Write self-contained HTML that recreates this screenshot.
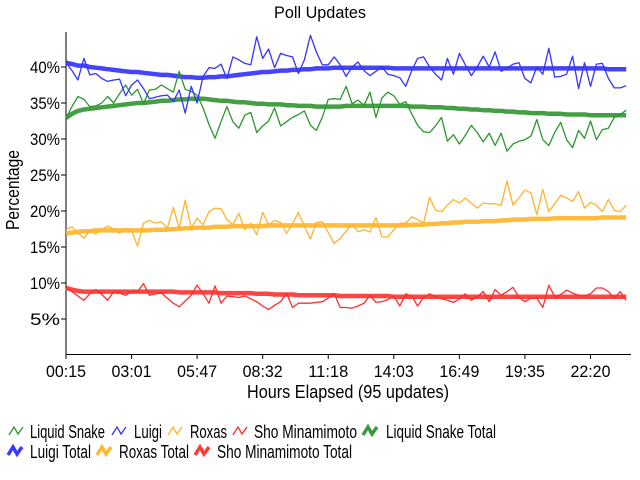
<!DOCTYPE html>
<html><head><meta charset="utf-8"><style>
html,body{margin:0;padding:0;background:#fff;}
svg{display:block;font-family:"Liberation Sans",sans-serif;}
</style></head><body>
<svg id="chart" width="640" height="480" viewBox="0 0 640 480" xmlns="http://www.w3.org/2000/svg">
<rect x="0" y="0" width="640" height="480" fill="#fff"/>
<text x="320" y="18" text-anchor="middle" font-size="17" textLength="92" lengthAdjust="spacingAndGlyphs">Poll Updates</text>
<text transform="translate(19,190) rotate(-90)" text-anchor="middle" font-size="18" textLength="80" lengthAdjust="spacingAndGlyphs">Percentage</text>
<text x="348" y="398" text-anchor="middle" font-size="18" textLength="202" lengthAdjust="spacingAndGlyphs">Hours Elapsed (95 updates)</text>
<g id="axes"></g>
<g id="series"></g>
<g id="legend"></g>
</svg>
<script>
const yTicks = [5,10,15,20,25,30,35,40];
const xTickLabels = ["00:15","03:01","05:47","08:32","11:18","14:03","16:49","19:35","22:20"];
const xTickIndex = [0,11,22,33,44,55,66,77,88];
const luigi = [40.6,39.5,38.2,41.2,38.9,39.1,38.4,38.0,38.2,38.3,36.0,37.5,38.2,37.0,35.6,35.8,36.0,36.1,35.2,36.8,33.6,37.3,35.0,38.7,39.9,39.8,40.4,38.4,41.4,41.0,40.5,40.3,44.2,41.2,42.5,39.9,41.9,41.6,41.4,39.1,41.0,44.4,42.1,40.3,40.3,41.4,40.3,38.7,40.0,40.7,39.5,38.8,39.4,40.0,39.0,38.8,38.5,37.3,39.5,41.2,41.4,40.0,39.0,38.2,41.2,39.0,41.9,40.3,38.8,40.0,41.5,40.0,42.1,39.4,39.8,40.4,40.6,38.4,37.8,40.0,39.0,42.6,38.6,38.7,39.0,41.5,37.0,40.6,37.3,40.4,40.5,38.4,37.1,37.1,37.4];
const snake = [32.9,34.5,35.9,35.5,34.5,34.6,35.0,35.9,35.0,36.3,37.5,36.1,36.9,34.9,36.8,36.9,37.5,37.0,36.5,39.4,36.9,36.6,36.1,34.3,32.0,30.1,32.4,34.5,32.4,31.5,33.3,33.7,30.9,31.8,32.5,34.3,31.8,32.4,33.0,33.4,33.9,31.9,31.2,33.0,35.5,35.6,35.5,37.3,34.9,35.4,34.7,36.5,33.0,35.7,36.5,36.0,34.8,35.2,33.5,31.9,31.0,30.9,31.8,33.0,29.7,30.6,29.3,30.5,31.9,30.9,29.6,30.8,29.1,30.8,28.3,29.3,29.7,29.9,30.4,32.7,29.9,29.1,30.9,32.3,29.9,28.8,31.2,30.1,32.5,29.9,31.3,31.5,33.0,33.4,34.0];
const roxas = [17.4,17.8,17.0,16.2,17.3,16.8,17.4,17.9,17.5,16.9,17.6,17.3,15.1,18.3,18.7,18.3,18.5,17.6,20.5,17.6,21.5,17.6,19.0,18.1,19.9,20.4,20.3,18.8,18.1,19.7,17.4,18.3,16.7,19.8,18.1,18.7,18.4,16.9,18.2,19.8,17.9,16.1,18.4,18.5,17.0,15.5,16.2,17.2,18.2,17.1,17.4,17.1,19.1,16.4,16.4,17.4,18.3,18.3,19.2,18.8,18.3,21.9,20.1,19.9,20.8,21.6,21.1,21.8,21.1,20.4,21.1,21.0,21.0,20.8,24.2,20.8,21.8,22.9,22.5,19.5,23.0,19.9,21.0,22.2,21.8,21.3,22.7,20.4,21.2,20.8,19.9,21.6,20.1,19.9,20.8];
const sho = [9.3,8.8,8.2,7.6,8.5,9.1,8.4,7.6,8.8,8.6,8.3,8.8,8.8,9.9,8.3,8.5,8.6,7.9,7.2,6.7,7.5,8.3,9.7,8.5,7.2,9.6,7.2,8.2,8.1,8.0,8.2,7.8,7.4,6.8,6.3,6.9,7.4,8.6,6.6,7.2,7.2,7.2,7.3,7.4,7.9,8.5,6.6,6.6,6.5,6.8,7.2,8.3,7.3,7.4,7.7,8.2,6.8,8.5,8.2,6.8,8.0,8.5,8.1,7.8,7.6,7.3,7.8,8.5,7.6,8.1,8.8,7.4,9.1,8.3,8.8,9.4,8.0,7.4,7.9,7.9,6.6,9.7,8.1,8.4,9.0,8.6,8.3,8.2,8.5,9.3,9.3,8.8,7.9,8.8,7.6];
const luigiTotal = [40.6,40.4,40.2,40.2,40.0,39.9,39.8,39.7,39.6,39.5,39.4,39.3,39.3,39.2,39.1,39.0,38.9,38.9,38.8,38.7,38.6,38.6,38.5,38.5,38.6,38.6,38.7,38.7,38.8,38.9,39.0,39.1,39.2,39.3,39.3,39.4,39.5,39.5,39.6,39.6,39.7,39.7,39.8,39.8,39.8,39.9,39.9,39.9,39.9,39.9,39.9,39.9,39.9,39.9,39.9,39.8,39.8,39.8,39.8,39.8,39.8,39.8,39.8,39.8,39.8,39.8,39.8,39.8,39.8,39.8,39.8,39.8,39.8,39.8,39.8,39.8,39.8,39.8,39.8,39.8,39.8,39.8,39.8,39.8,39.8,39.8,39.8,39.8,39.8,39.8,39.8,39.7,39.7,39.7,39.7];
const snakeTotal = [32.9,33.5,33.9,34.1,34.2,34.3,34.4,34.5,34.6,34.7,34.8,34.9,35.0,35.0,35.1,35.2,35.3,35.3,35.4,35.5,35.5,35.6,35.6,35.6,35.5,35.4,35.3,35.3,35.2,35.1,35.1,35.0,34.9,34.9,34.8,34.8,34.8,34.7,34.7,34.6,34.6,34.6,34.5,34.5,34.5,34.5,34.5,34.6,34.6,34.6,34.6,34.6,34.6,34.6,34.6,34.6,34.6,34.6,34.5,34.5,34.5,34.4,34.4,34.4,34.3,34.3,34.2,34.2,34.1,34.1,34.0,34.0,33.9,33.9,33.8,33.8,33.7,33.7,33.6,33.6,33.6,33.5,33.5,33.5,33.4,33.4,33.4,33.4,33.3,33.3,33.3,33.3,33.3,33.3,33.3];
const roxasTotal = [16.9,17.0,17.1,17.2,17.2,17.3,17.3,17.3,17.3,17.3,17.3,17.3,17.3,17.3,17.3,17.4,17.4,17.4,17.5,17.5,17.6,17.6,17.7,17.7,17.7,17.8,17.8,17.8,17.9,17.9,17.9,17.9,17.9,17.9,18.0,18.0,18.0,18.0,18.0,18.0,18.0,18.0,18.0,18.0,18.0,18.0,18.0,18.0,18.0,18.0,18.0,18.0,18.0,18.0,18.0,18.0,18.0,18.0,18.1,18.1,18.1,18.2,18.2,18.3,18.3,18.4,18.4,18.5,18.5,18.5,18.6,18.6,18.6,18.7,18.7,18.8,18.8,18.8,18.9,18.9,18.9,18.9,19.0,19.0,19.0,19.0,19.0,19.0,19.0,19.0,19.1,19.1,19.1,19.1,19.1];
const shoTotal = [9.3,9.1,8.9,8.8,8.8,8.8,8.8,8.8,8.8,8.8,8.8,8.8,8.8,8.8,8.8,8.8,8.8,8.8,8.8,8.7,8.7,8.7,8.7,8.7,8.7,8.7,8.6,8.6,8.6,8.6,8.6,8.6,8.5,8.5,8.5,8.4,8.4,8.4,8.4,8.3,8.3,8.3,8.3,8.3,8.3,8.3,8.2,8.2,8.2,8.2,8.2,8.2,8.2,8.2,8.2,8.1,8.1,8.1,8.1,8.1,8.1,8.1,8.1,8.1,8.1,8.1,8.1,8.1,8.1,8.1,8.1,8.1,8.1,8.1,8.1,8.1,8.1,8.1,8.1,8.1,8.1,8.1,8.1,8.1,8.1,8.1,8.1,8.1,8.1,8.1,8.1,8.1,8.1,8.1,8.1];

const NS="http://www.w3.org/2000/svg";
const X0=66, XSTEP=5.96, Y0=355, YPX=7.2;
function xs(i){return X0+i*XSTEP;}
function ys(v){return Y0-v*YPX;}
function mk(tag,parent,attrs){const e=document.createElementNS(NS,tag);for(const k in attrs)e.setAttribute(k,attrs[k]);parent.appendChild(e);return e;}

const axes=document.getElementById('axes');
let e;
e=mk('line',axes,{x1:66,y1:32,x2:66,y2:355,stroke:'#000','stroke-width':1});


e=mk('line',axes,{x1:66,y1:354.5,x2:631,y2:354.5,stroke:'#000','stroke-width':1});


yTicks.forEach(v=>{
  const t=mk('line',axes,{x1:61,y1:ys(v),x2:66,y2:ys(v),stroke:'#000'});
  
  
  const l=mk('text',axes,{x:60,y:ys(v)+6,'text-anchor':'end','font-size':17,textLength:30,lengthAdjust:'spacingAndGlyphs'});
  l.textContent=v+'%';
  
  
});
xTickLabels.forEach((s,k)=>{
  const x=xs(xTickIndex[k]);
  const t=mk('line',axes,{x1:x,y1:355,x2:x,y2:359,stroke:'#000'});
  
  
  const l=mk('text',axes,{x:x,y:377,'text-anchor':'middle','font-size':17,textLength:40,lengthAdjust:'spacingAndGlyphs'});
  l.textContent=s;
  
  
});

const ser=document.getElementById('series');
function drawLine(arr,color,w,name,op){
  const pts=arr.map((v,i)=>xs(i).toFixed(1)+','+ys(v).toFixed(1)).join(' ');
  const p=mk('polyline',ser,{points:pts,fill:'none',stroke:color,'stroke-width':w,'stroke-linejoin':'round',opacity:op});
  
  
}
drawLine(snakeTotal,'#3a9a3a',4.5,'liquid-snake-total-line',0.95);
drawLine(roxasTotal,'#ffb733',4.5,'roxas-total-line',0.95);
drawLine(shoTotal,'#ff3a3a',4.5,'sho-minamimoto-total-line',0.95);
drawLine(luigiTotal,'#3a3aff',4.5,'luigi-total-line',0.95);
drawLine(snake,'#2e962e',1.3,'liquid-snake-line',1);
drawLine(luigi,'#3434ff',1.3,'luigi-line',1);
drawLine(roxas,'#ffb32e',1.3,'roxas-line',1);
drawLine(sho,'#ff2e2e',1.3,'sho-minamimoto-line',1);

const leg=document.getElementById('legend');
const items=[
 ['Liquid Snake','#2e962e',1.3,9,438,30,75,'legend-liquid-snake'],
 ['Luigi','#3434ff',1.3,112,438,134,28,'legend-luigi'],
 ['Roxas','#ffb32e',1.3,168,438,190,37,'legend-roxas'],
 ['Sho Minamimoto','#ff2e2e',1.3,233,438,254,103,'legend-sho-minamimoto'],
 ['Liquid Snake Total','#3a9a3a',3.5,363,438,386,110,'legend-liquid-snake-total'],
 ['Luigi Total','#3a3aff',3.5,8,458,30,61,'legend-luigi-total'],
 ['Roxas Total','#ffb733',3.5,97,458,119,70,'legend-roxas-total'],
 ['Sho Minamimoto Total','#ff3a3a',3.5,195,458,217,135,'legend-sho-minamimoto-total']
];
items.forEach(it=>{
  const g=mk('g',leg,{});
  
  
  const ix=it[3], iy=it[4];
  mk('polyline',g,{points:`${ix},${iy-3} ${ix+5},${iy-11} ${ix+9},${iy-4} ${ix+14},${iy-11}`,fill:'none',stroke:it[1],'stroke-width':it[2]});
  const t=mk('text',g,{x:it[5],y:iy,'font-size':18,textLength:it[6],lengthAdjust:'spacingAndGlyphs'});
  t.textContent=it[0];
});
</script>
</body></html>
